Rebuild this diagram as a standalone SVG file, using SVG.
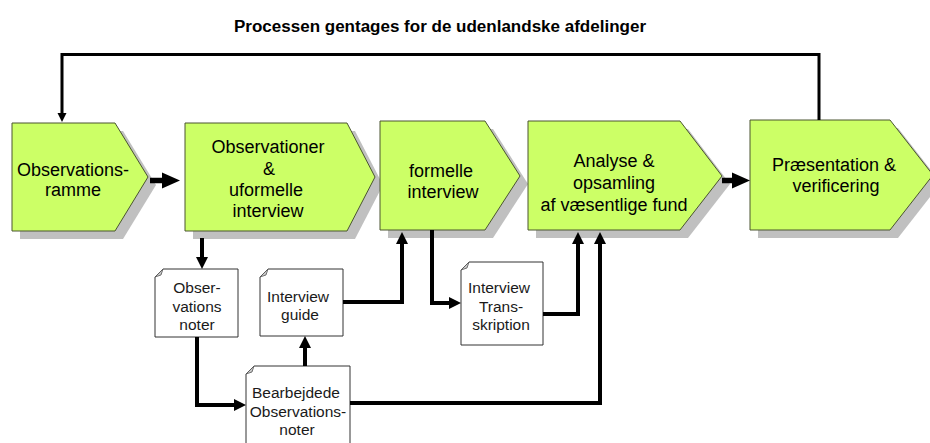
<svg xmlns="http://www.w3.org/2000/svg" width="930" height="443" viewBox="0 0 930 443">
<style>
.sh{fill:#c0c0c0}
.nd{fill:#ccff66;stroke:#4a5530;stroke-width:1}
.nt{font-family:"Liberation Sans",Arial,sans-serif;font-size:18px;fill:#000;text-anchor:middle}
.doc{fill:#fff;stroke:#333;stroke-width:1}
.fold{fill:#c8c8c8;stroke:#555;stroke-width:0.8}
.dt{font-family:"Liberation Sans",Arial,sans-serif;font-size:15.5px;fill:#1a1a1a;text-anchor:middle}
.c{fill:none;stroke:#000;stroke-width:4}
.ct{fill:none;stroke:#000;stroke-width:3}
.cf{fill:none;stroke:#000;stroke-width:5.5}
.title{font-family:"Liberation Sans",Arial,sans-serif;font-size:16px;font-weight:bold;fill:#000;text-anchor:middle}
</style>
<defs>
<marker id="ah" markerUnits="userSpaceOnUse" markerWidth="14" markerHeight="14" viewBox="0 -7 14 14" refX="1" refY="0" orient="auto"><path d="M0,-6 L12,0 L0,6Z" fill="#000"/></marker>
<marker id="ahs" markerUnits="userSpaceOnUse" markerWidth="12" markerHeight="12" viewBox="0 -6 12 12" refX="1" refY="0" orient="auto"><path d="M0,-4.5 L9,0 L0,4.5Z" fill="#000"/></marker>
<marker id="ahb" markerUnits="userSpaceOnUse" markerWidth="20" markerHeight="20" viewBox="0 -10 20 20" refX="1" refY="0" orient="auto"><path d="M0,-8 L18,0 L0,8Z" fill="#000"/></marker>
</defs>

<text class="title" x="440" y="32" textLength="412" lengthAdjust="spacingAndGlyphs">Processen gentages for de udenlandske afdelinger</text>

<g id="n1">
<polygon class="sh" transform="translate(8,8)" points="12,123 115,123 148,177 115,231 12,231"/>
<polygon class="nd" points="12,123 115,123 148,177 115,231 12,231"/>
<text class="nt" x="73" y="176">Observations-</text>
<text class="nt" x="73" y="196">ramme</text>
</g>
<g id="n2">
<polygon class="sh" transform="translate(8,8)" points="185,123 347,123 375,177 347,231 185,231"/>
<polygon class="nd" points="185,123 347,123 375,177 347,231 185,231"/>
<text class="nt" x="268" y="153">Observationer</text>
<text class="nt" x="269" y="175">&amp;</text>
<text class="nt" x="266" y="196">uformelle</text>
<text class="nt" x="268" y="217">interview</text>
</g>
<g id="n3">
<polygon class="sh" transform="translate(8,8)" points="380,121 485,121 520,176 485,230 380,230"/>
<polygon class="nd" points="380,121 485,121 520,176 485,230 380,230"/>
<text class="nt" x="441" y="177">formelle</text>
<text class="nt" x="443" y="198">interview</text>
</g>
<g id="n4">
<polygon class="sh" transform="translate(8,8)" points="528,121 680,121 722,176 680,230 528,230"/>
<polygon class="nd" points="528,121 680,121 722,176 680,230 528,230"/>
<text class="nt" x="614" y="167">Analyse &amp;</text>
<text class="nt" x="614" y="189">opsamling</text>
<text class="nt" x="614" y="211">af væsentlige fund</text>
</g>
<g id="n5">
<polygon class="sh" transform="translate(8,8)" points="750,120 890,120 933,175 890,230 750,230"/>
<polygon class="nd" points="750,120 890,120 933,175 890,230 750,230"/>
<text class="nt" x="834" y="171">Præsentation &amp;</text>
<text class="nt" x="836" y="192">verificering</text>
</g>

<g id="d1">
<path class="doc" d="M155,277 L163,269 H238 V337 H155 Z"/>
<path class="fold" d="M155,277 L163,269 L161,275 Z"/>
<text class="dt" x="197" y="293">Obser-</text>
<text class="dt" x="197" y="312">vations</text>
<text class="dt" x="197" y="330">noter</text>
</g>
<g id="d2">
<path class="doc" d="M260,277 L268,269 H343 V336 H260 Z"/>
<path class="fold" d="M260,277 L268,269 L266,275 Z"/>
<text class="dt" x="298" y="302">Interview</text>
<text class="dt" x="300" y="320">guide</text>
</g>
<g id="d3">
<path class="doc" d="M246,374 L254,366 H350 V446 H246 Z"/>
<path class="fold" d="M246,374 L254,366 L252,372 Z"/>
<text class="dt" x="296" y="398">Bearbejdede</text>
<text class="dt" x="298" y="417">Observations-</text>
<text class="dt" x="297" y="435">noter</text>
</g>
<g id="d4">
<path class="doc" d="M461,270 L469,262 H543 V345 H461 Z"/>
<path class="fold" d="M461,270 L469,262 L467,268 Z"/>
<text class="dt" x="499" y="293">Interview</text>
<text class="dt" x="501" y="312">Trans-</text>
<text class="dt" x="501" y="330">skription</text>
</g>

<g id="connectors">
<path class="ct" d="M819,120 V54.5 H62 V114" marker-end="url(#ahs)"/>
<path class="cf" d="M150,180.5 H163" marker-end="url(#ahb)"/>
<path class="cf" d="M722,180.5 H733" marker-end="url(#ahb)"/>
<path class="c" d="M202,238 V258" marker-end="url(#ah)"/>
<path class="c" d="M197,337 V405 H235" marker-end="url(#ah)"/>
<path class="c" d="M305,366 V347" marker-end="url(#ah)"/>
<path class="c" d="M343,302 H402 V243" marker-end="url(#ah)"/>
<path class="c" d="M432,230 V303 H450" marker-end="url(#ah)"/>
<path class="c" d="M543,314 H578 V243" marker-end="url(#ah)"/>
<path class="c" d="M350,403 H600 V243" marker-end="url(#ah)"/>
</g>
</svg>
